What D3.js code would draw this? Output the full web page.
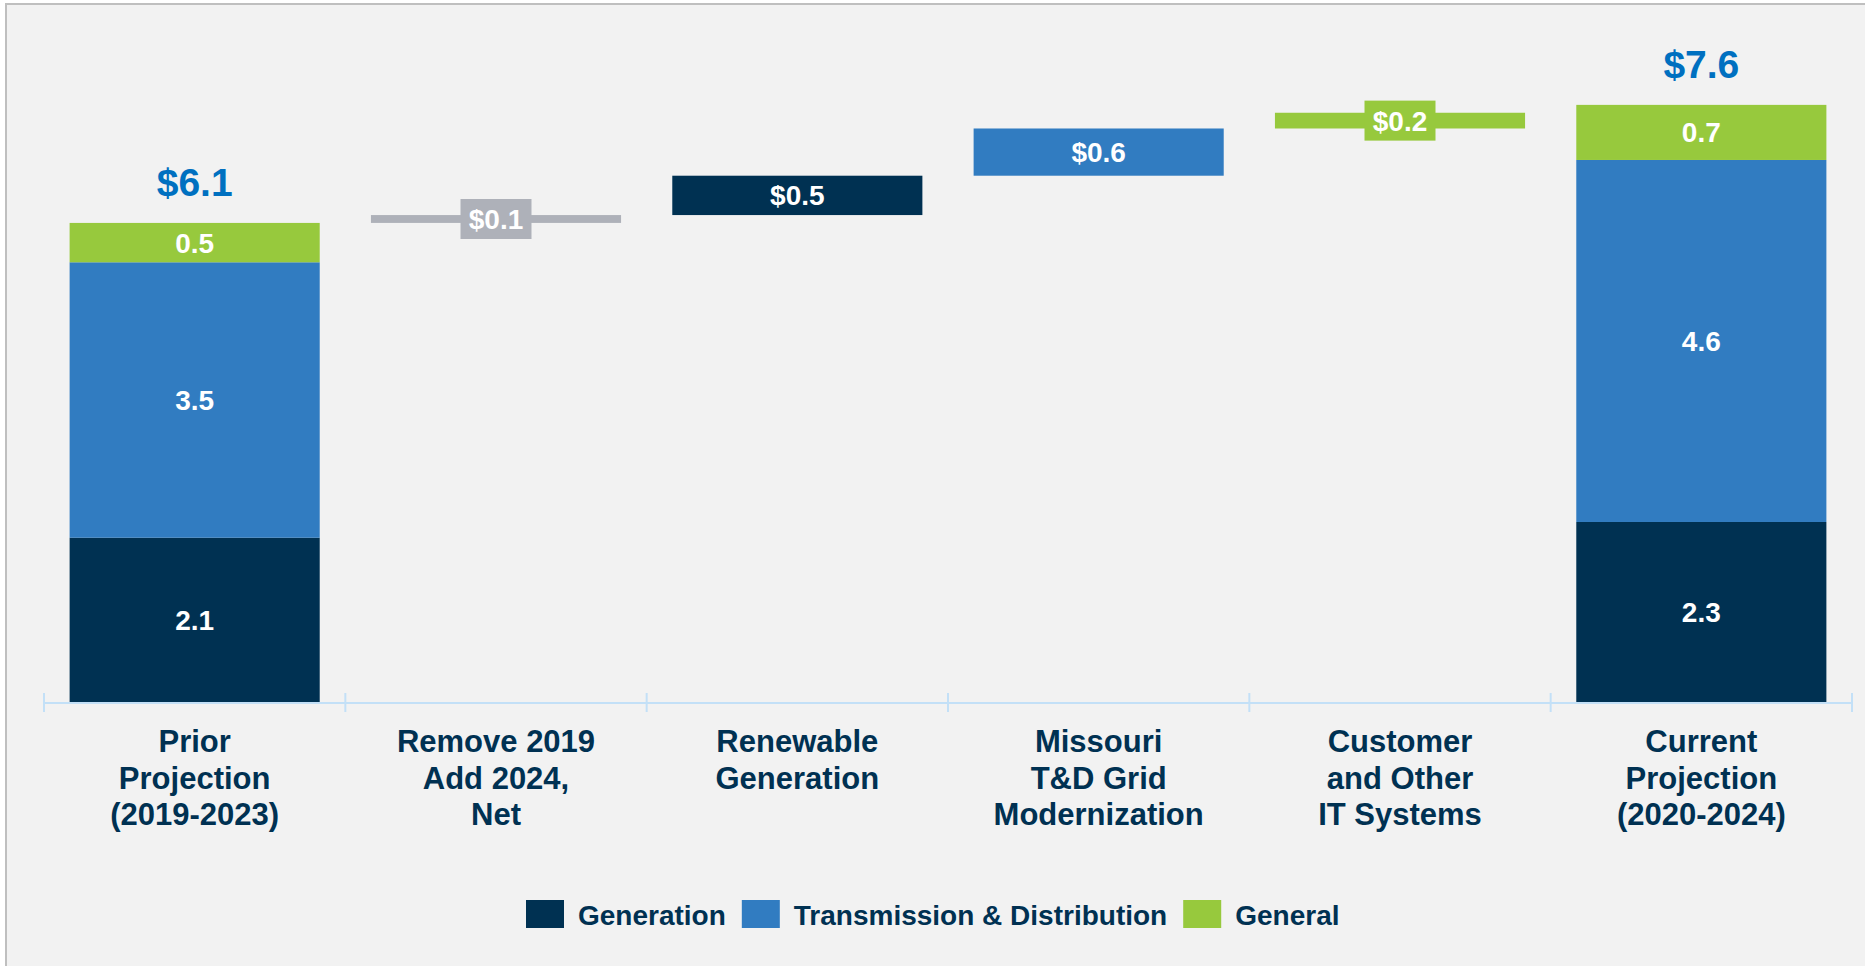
<!DOCTYPE html>
<html>
<head>
<meta charset="utf-8">
<script src="https://cdn.jsdelivr.net/npm/d3@7"></script>
<style>
  body { margin: 0; background: #ffffff; }
  text { font-family: "Liberation Sans", Arial, sans-serif; font-weight: bold; }
</style>
</head>
<body>
<svg id="canvas" width="1865" height="966"></svg>
<script>
// chart data
let categories = [
    ['Prior', 'Projection', '(2019-2023)'],
    ['Remove 2019', 'Add 2024,', 'Net'],
    ['Renewable', 'Generation'],
    ['Missouri', 'T&D Grid', 'Modernization'],
    ['Customer', 'and Other', 'IT Systems'],
    ['Current', 'Projection', '(2020-2024)']
]
let seriesNames = ['Generation', 'Transmission & Distribution', 'General']
let priorValues = [2.1, 3.5, 0.5]
let currentValues = [2.3, 4.6, 0.7]
let totalLabels = ['$6.1', '$7.6']
let stepValues = [0.1, 0.5, 0.6, 0.2]
let stepLabels = ['$0.1', '$0.5', '$0.6', '$0.2']
let stepKinds = ['Net', 'Generation', 'Transmission & Distribution', 'General']

let colors = {
    'Generation': '#003152',
    'Transmission & Distribution': '#317cc1',
    'General': '#97c93d',
    'Net': '#aeb1b9'
}
let navy = '#003152'

let canvas = d3.select('#canvas')

// panel background
canvas.append('rect')
    .attr('x', 6).attr('y', 4)
    .attr('width', 1865).attr('height', 970)
    .attr('fill', '#f2f2f2')
    .attr('stroke', '#bfbfbf')
    .attr('stroke-width', 2)

let xScale = d3.scaleBand()
    .domain(d3.range(categories.length))
    .range([44, 1852])
    .paddingInner(0.17)
    .paddingOuter(0.085)

let yScale = d3.scaleLinear()
    .domain([0, 8])
    .range([703, 73.4])

// build bars: first total, steps, last total
let bars = []
let addStack = (idx, values) => {
    let base = 0
    values.forEach((v, i) => {
        bars.push({idx: idx, y0: base, y1: base + v, kind: seriesNames[i], label: v.toFixed(1), box: false})
        base += v
    })
}
addStack(0, priorValues)
let running = d3.sum(priorValues)
stepValues.forEach((v, i) => {
    bars.push({idx: i + 1, y0: running, y1: running + v, kind: stepKinds[i], label: stepLabels[i], box: true})
    running += v
})
addStack(5, currentValues)

let block = canvas.selectAll('g.bar')
    .data(bars)
    .enter()
    .append('g')
    .attr('class', 'bar')

block.append('rect')
    .attr('x', (d) => xScale(d.idx))
    .attr('width', xScale.bandwidth())
    .attr('y', (d) => yScale(d.y1))
    .attr('height', (d) => yScale(d.y0) - yScale(d.y1))
    .attr('fill', (d) => colors[d.kind])

// label box for thin step bars
block.filter((d) => d.box && (yScale(d.y0) - yScale(d.y1)) < 30)
    .append('rect')
    .attr('x', (d) => xScale(d.idx) + xScale.bandwidth() / 2 - 35.5)
    .attr('y', (d) => (yScale(d.y0) + yScale(d.y1)) / 2 - 20)
    .attr('width', 71)
    .attr('height', 40)
    .attr('fill', (d) => colors[d.kind])

block.append('text')
    .text((d) => d.label)
    .attr('x', (d) => xScale(d.idx) + xScale.bandwidth() / 2)
    .attr('y', (d) => (yScale(d.y0) + yScale(d.y1)) / 2 + 10)
    .attr('text-anchor', 'middle')
    .attr('font-size', 28)
    .attr('fill', '#ffffff')

// totals above stacked bars
let totals = [
    {idx: 0, value: d3.sum(priorValues), label: totalLabels[0]},
    {idx: 5, value: d3.sum(currentValues), label: totalLabels[1]}
]
canvas.selectAll('text.total')
    .data(totals)
    .enter()
    .append('text')
    .attr('class', 'total')
    .text((d) => d.label)
    .attr('x', (d) => xScale(d.idx) + xScale.bandwidth() / 2)
    .attr('y', (d) => yScale(d.value) - 27)
    .attr('text-anchor', 'middle')
    .attr('font-size', 39)
    .attr('fill', '#0070c0')

// category axis
let axisY = yScale(0)
canvas.append('line')
    .attr('x1', 44).attr('x2', 1852)
    .attr('y1', axisY).attr('y2', axisY)
    .attr('stroke', '#c3e0f7')
    .attr('stroke-width', 2)

let tickXs = d3.range(categories.length + 1).map((i) => 44 + i * xScale.step())
canvas.selectAll('line.tick')
    .data(tickXs)
    .enter()
    .append('line')
    .attr('class', 'tick')
    .attr('x1', (d) => d).attr('x2', (d) => d)
    .attr('y1', axisY - 10).attr('y2', axisY + 9)
    .attr('stroke', '#c3e0f7')
    .attr('stroke-width', 2)

let catText = canvas.selectAll('text.cat')
    .data(categories)
    .enter()
    .append('text')
    .attr('class', 'cat')
    .attr('text-anchor', 'middle')
    .attr('font-size', 31)
    .attr('fill', navy)

catText.selectAll('tspan')
    .data((d, i) => d.map((line) => ({line: line, idx: i})))
    .enter()
    .append('tspan')
    .attr('x', (d) => xScale(d.idx) + xScale.bandwidth() / 2)
    .attr('y', (d, j) => 752 + j * 36.7)
    .text((d) => d.line)

// legend
let legend = canvas.append('g')
let lx = 526
seriesNames.forEach((name) => {
    legend.append('rect')
        .attr('x', lx).attr('y', 900)
        .attr('width', 38).attr('height', 28)
        .attr('fill', colors[name])
    let t = legend.append('text')
        .text(name)
        .attr('x', lx + 52)
        .attr('y', 925)
        .attr('font-size', 28)
        .attr('fill', navy)
    lx = lx + 52 + t.node().getComputedTextLength() + 16
})
</script>
</body>
</html>
